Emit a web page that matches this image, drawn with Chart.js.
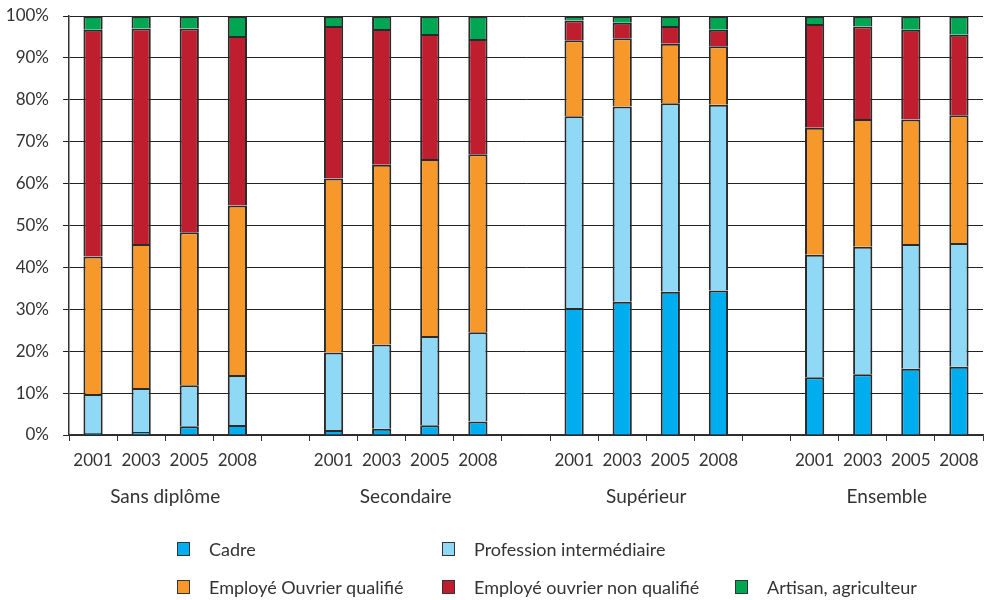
<!DOCTYPE html>
<html>
<head>
<meta charset="utf-8">
<script src="https://cdn.jsdelivr.net/npm/chart.js@4.4.0/dist/chart.umd.min.js"></script>
<style>
  body { margin: 0; background: #fff; }
  #wrap { position: relative; width: 984px; height: 600px; }
  #chart { position: absolute; left: 0; top: 0; }
  .legend { position: absolute; left: 0; top: 0; font-family: Lato, sans-serif; font-size: 18px; color: #333; }
  .item { position: absolute; white-space: nowrap; display: flex; align-items: center; }
  .sw { width: 11px; height: 12px; border: 1.5px solid #333; margin-right: 19px; }
</style>
</head>
<body>
<div id="wrap">
  <canvas id="chart" width="984" height="600"></canvas>
  <div class="legend" id="legend"></div>
</div>
<script>
// groups of 4 years, separated by an empty slot
const groups = ['Sans diplôme', 'Secondaire', 'Supérieur', 'Ensemble'];
const years = ['2001', '2003', '2005', '2008'];

// share of each category (%), 16 bars in group order
const cadre        = [0.5, 0.7, 2.1, 2.4,   1.2, 1.5, 2.3, 3.2,   30.3, 31.8, 34.2, 34.5,   13.8, 14.5, 15.8, 16.3];
const profession   = [9.3, 10.5, 9.8, 11.9, 18.5, 20.1, 21.3, 21.3, 45.8, 46.6, 45.0, 44.3,  29.2, 30.4, 29.8, 29.5];
const qualifie     = [32.8, 34.4, 36.5, 40.5, 41.5, 42.9, 42.3, 42.5, 18.1, 16.3, 14.2, 14.0, 30.3, 30.5, 29.7, 30.5];
const nonQualifie  = [54.1, 51.4, 48.6, 40.4, 36.4, 32.4, 29.8, 27.5, 4.7, 3.7, 4.2, 3.9,    24.8, 22.1, 21.4, 19.2];
const artisan      = [3.3, 3.0, 3.0, 4.8,   2.4, 3.1, 4.3, 5.5,   1.1, 1.6, 2.4, 3.3,   1.9, 2.5, 3.3, 4.5];

const seriesNames  = ['Cadre', 'Profession intermédiaire', 'Employé Ouvrier qualifié', 'Employé ouvrier non qualifié', 'Artisan, agriculteur'];
const seriesColors = ['#00adef', '#8fd8f6', '#f7992a', '#be1e2d', '#00a651'];

// build the 19 slots (4 bars + 1 gap per group)
const labels = [];
groups.forEach((g, gi) => {
  years.forEach(y => labels.push(y));
  if (gi < groups.length - 1) labels.push('');
});
function slots(arr) {
  const out = [];
  groups.forEach((g, gi) => {
    for (let i = 0; i < 4; i++) out.push(arr[gi * 4 + i]);
    if (gi < groups.length - 1) out.push(null);
  });
  return out;
}

const datasets = [cadre, profession, qualifie, nonQualifie, artisan].map((arr, i) => ({
  label: seriesNames[i],
  data: slots(arr),
  backgroundColor: seriesColors[i],
  borderColor: '#2a2a2a',
  borderWidth: 2,
  categoryPercentage: 1,
  barPercentage: 0.4
}));

// group names under the years
const groupLabels = {
  id: 'groupLabels',
  afterDraw(chart) {
    const x = chart.scales.x;
    const ctx = chart.ctx;
    ctx.save();
    ctx.font = '19px Lato, sans-serif';
    ctx.fillStyle = '#333';
    ctx.textAlign = 'center';
    ctx.textBaseline = 'middle';
    groups.forEach((g, gi) => {
      const a = x.getPixelForValue(gi * 5 + 1);
      const b = x.getPixelForValue(gi * 5 + 2);
      ctx.fillText(g, (a + b) / 2, 497);
    });
    ctx.restore();
  }
};

new Chart(document.getElementById('chart'), {
  type: 'bar',
  data: { labels: labels, datasets: datasets },
  options: {
    responsive: false,
    animation: false,
    layout: { padding: { top: 16, right: 1, left: 0, bottom: 0 } },
    plugins: { legend: { display: false }, tooltip: { enabled: false } },
    scales: {
      x: {
        stacked: true,
        afterFit(scale) { scale.height = 165; scale.paddingLeft = 0; scale.paddingRight = 0; },
        grid: { offset: true, drawOnChartArea: false, drawTicks: true, tickLength: 6, color: '#333' },
        border: { color: '#333', width: 1.5 },
        ticks: { color: '#333', font: { family: 'Lato', size: 17 }, padding: 9, maxRotation: 0, autoSkip: false }
      },
      y: {
        stacked: true,
        min: 0,
        max: 100,
        afterFit(scale) { scale.width = 69; scale.paddingTop = 0; scale.paddingBottom = 0; },
        grid: { color: '#222', lineWidth: 1, tickLength: 6 },
        border: { color: '#333', width: 1.5 },
        ticks: { stepSize: 10, color: '#333', font: { family: 'Lato', size: 17 }, padding: 14,
                 callback: v => v + '%' }
      }
    }
  },
  plugins: [groupLabels]
});

// legend laid out as in the original (two rows)
const legendPos = [[177, 550], [442, 550], [177, 588], [442, 588], [735, 588]];
const legend = document.getElementById('legend');
seriesNames.forEach((n, i) => {
  const d = document.createElement('div');
  d.className = 'item';
  d.style.left = legendPos[i][0] + 'px';
  d.style.top = (legendPos[i][1] - 12) + 'px';
  d.innerHTML = '<span class="sw" style="background:' + seriesColors[i] + '"></span>' + n;
  legend.appendChild(d);
});
</script>
</body>
</html>
